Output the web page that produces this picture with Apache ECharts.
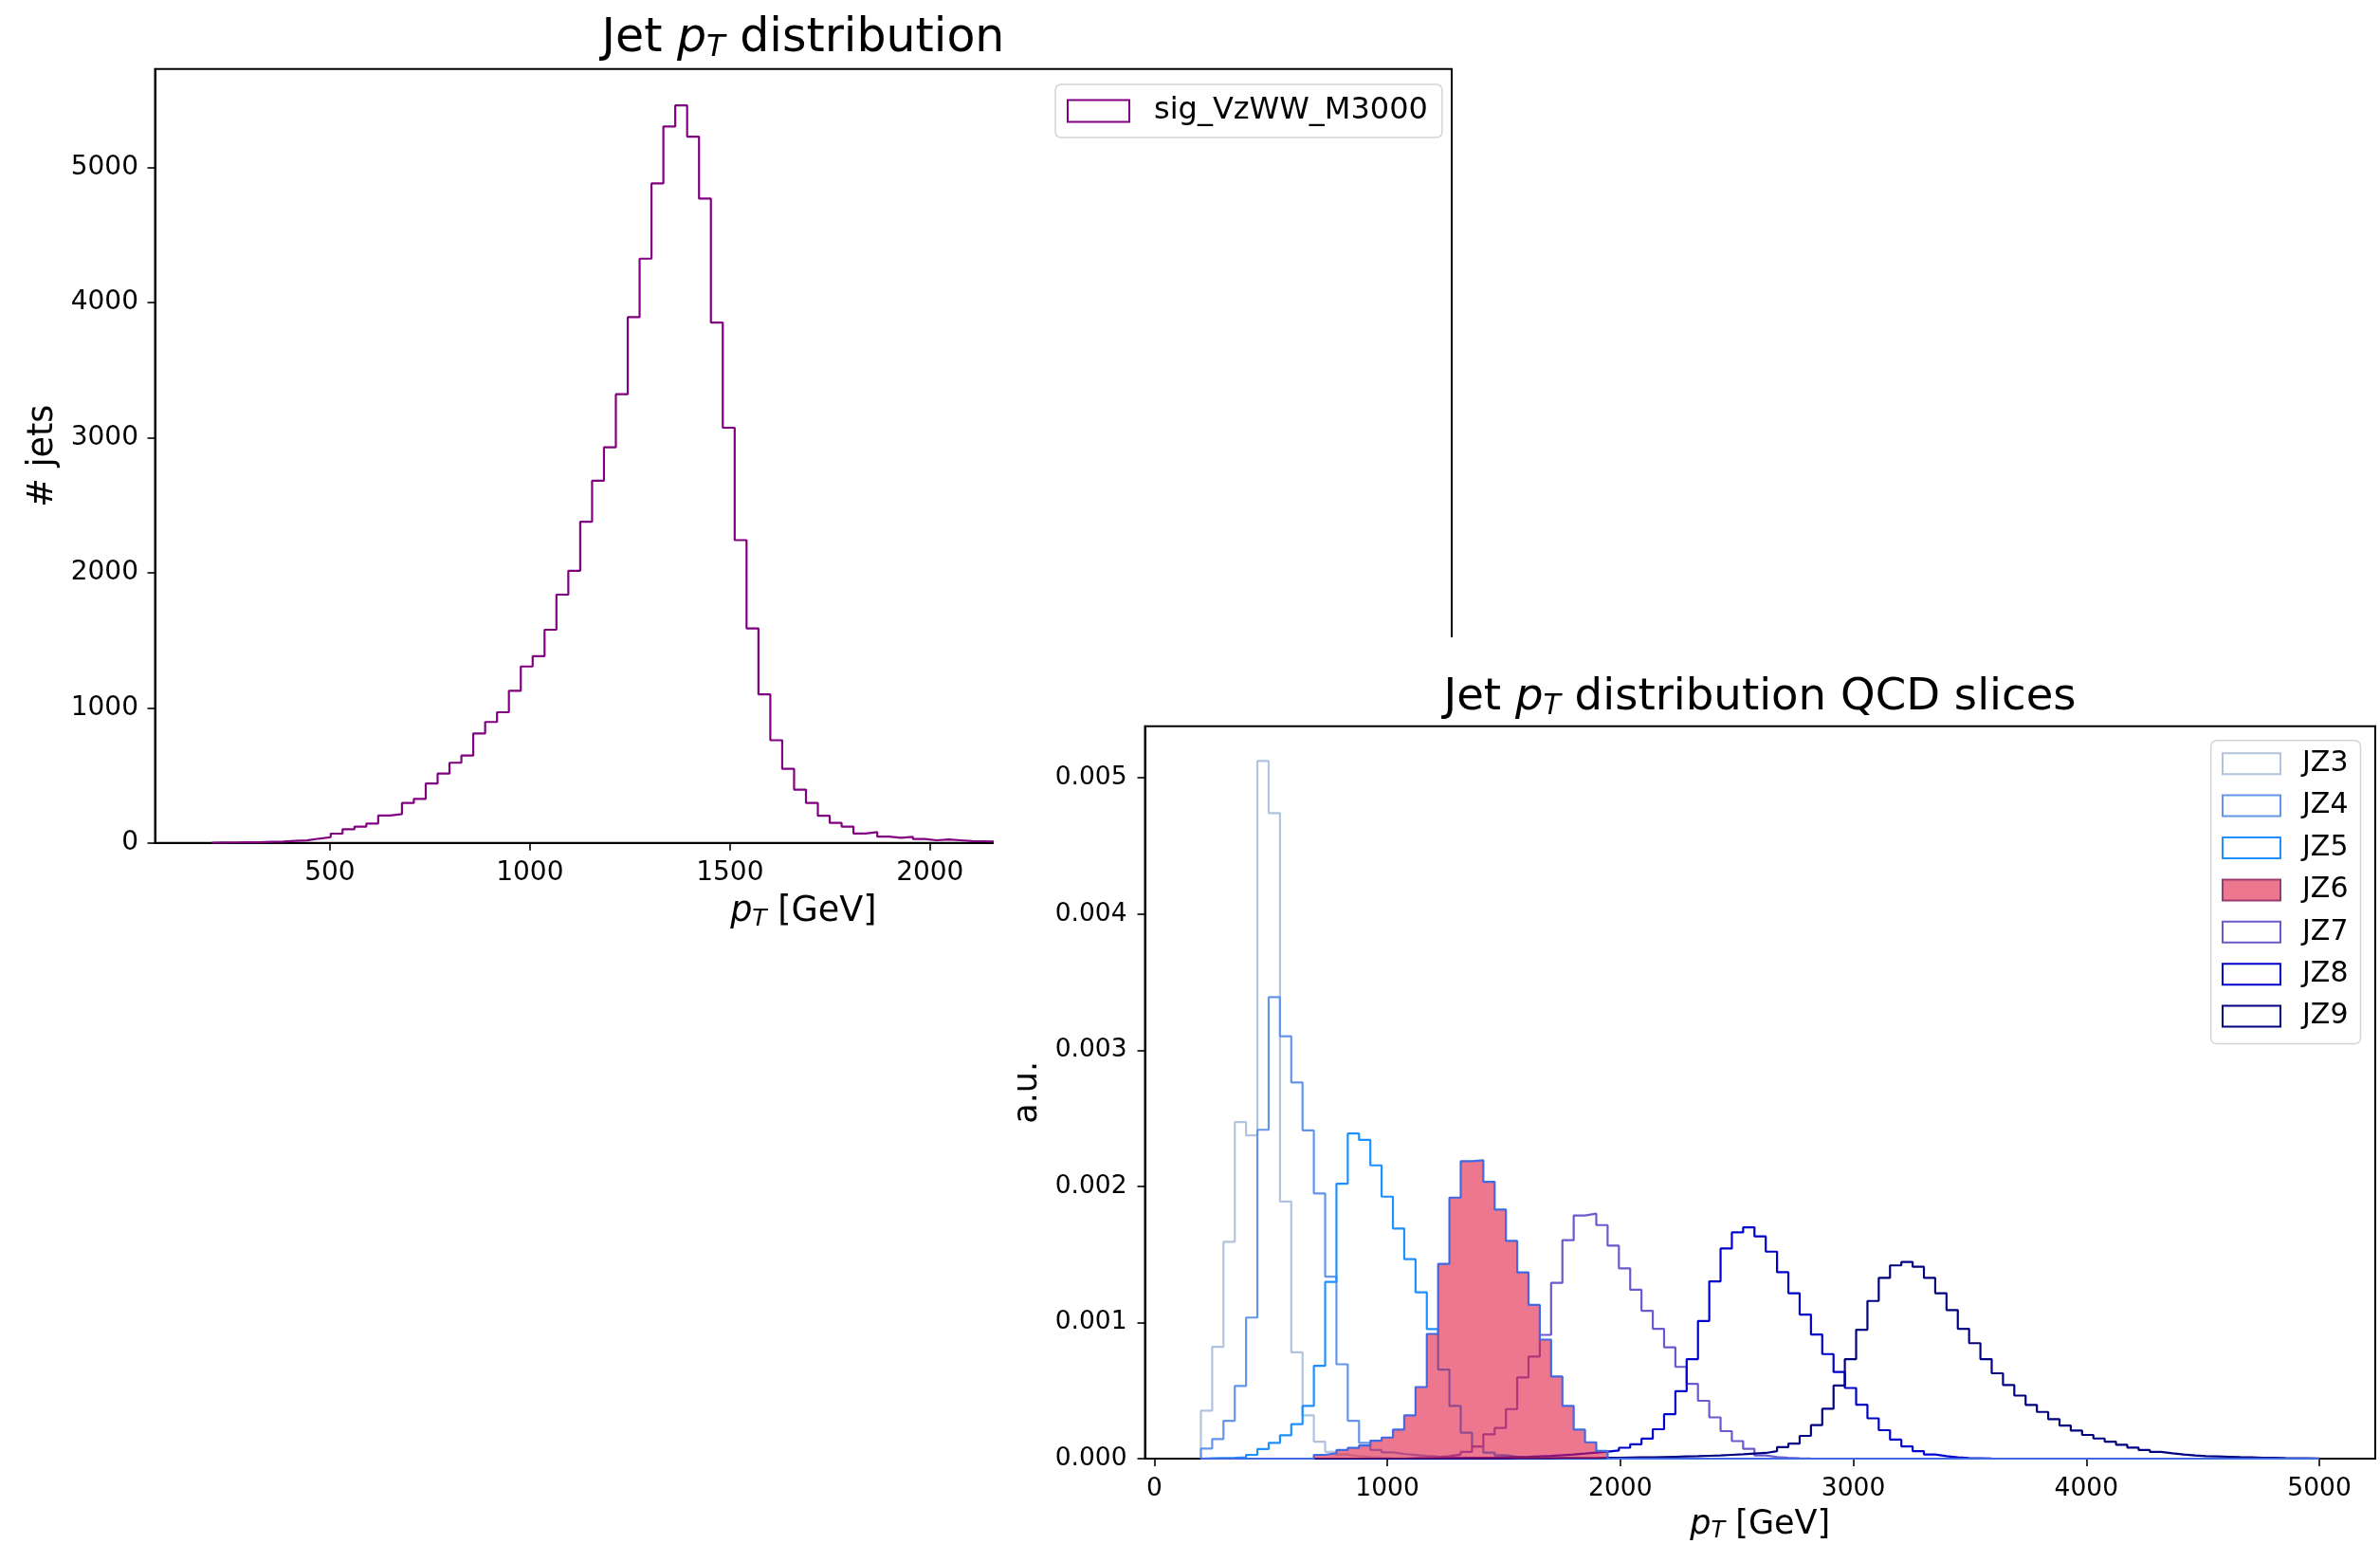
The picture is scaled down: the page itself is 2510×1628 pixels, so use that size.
<!DOCTYPE html>
<html>
<head>
<meta charset="utf-8">
<script src="https://cdn.jsdelivr.net/npm/echarts@6/dist/echarts.min.js"></script>
<style>
  html, body { margin: 0; padding: 0; background: #fff; }
  #main { width: 2510px; height: 1628px; }
</style>
</head>
<body>
<div id="main"></div>
<script>
var FONT = 'DejaVu Sans'

// left panel: signal jets, equal-width bins
var sigStart = 205
var sigWidth = 29.7
var sigBins = 100
var sigCounts = [
  2, 3, 5, 4, 8, 10, 14, 18, 31, 42,
  68, 101, 120, 143, 202, 213, 295, 326, 440, 513,
  593, 646, 810, 895, 967, 1126, 1306, 1383, 1578, 1838,
  2015, 2378, 2682, 2929, 3322, 3893, 4326, 4883, 5305, 5461,
  5230, 4771, 3853, 3074, 2242, 1588, 1100, 760, 548, 394,
  295, 200, 148, 120, 69, 80, 46, 38, 44, 28,
  19, 25, 19, 13, 12, 10, 8, 6, 5, 4, 3
]
var sigXTicks = [500, 1000, 1500, 2000, 2500, 3000]
var sigYTicks = [0, 1000, 2000, 3000, 4000, 5000]

// right panel: QCD slices, shared bins, values in units of 1e-3
var qcdStart = 200
var qcdEnd = 5000
var qcdBins = 99
var AU = 0.001
var jzNames = ['JZ3', 'JZ4', 'JZ5', 'JZ6', 'JZ7', 'JZ8', 'JZ9']
var jzColors = ['#b0c4de', '#6495ed', '#1e90ff', '#4169e1', '#6a5acd', '#0000cd', '#000080']
var jzFirstBin = [0, 0, 0, 10, 18, 20, 25]

var jz3 = [0.352, 0.821, 1.592, 2.471, 2.374, 5.123, 4.741, 1.889, 0.781, 0.318,
  0.125, 0.05, 0.03, 0.018, 0.012, 0.008, 0.005, 0.003, 0.002, 0.001]
var jz4 = [0.074, 0.144, 0.278, 0.533, 1.036, 2.415, 3.389, 3.102, 2.763, 2.411,
  1.947, 1.337, 0.693, 0.278, 0.116, 0.063, 0.046, 0.035, 0.027, 0.02,
  0.015, 0.011, 0.008, 0.006, 0.004, 0.003, 0.002, 0.001]
var jz5 = [0.002, 0.004, 0.006, 0.01, 0.028, 0.07, 0.116, 0.171, 0.253, 0.387,
  0.681, 1.298, 2.019, 2.388, 2.341, 2.154, 1.924, 1.69, 1.465, 1.222,
  0.951, 0.654, 0.387, 0.19, 0.09, 0.045, 0.025, 0.014, 0.008, 0.005,
  0.003, 0.002, 0.001]
var jz6 = [0.028, 0.04, 0.063, 0.079, 0.097, 0.132, 0.155, 0.213, 0.318, 0.526,
  0.916, 1.43, 1.917, 2.184, 2.191, 2.033, 1.829, 1.599, 1.368, 1.129,
  0.874, 0.603, 0.387, 0.213, 0.12, 0.056]
var jz7 = [0.005, 0.008, 0.012, 0.018, 0.03, 0.05, 0.09, 0.178, 0.225, 0.364,
  0.596, 0.75, 0.909, 1.291, 1.604, 1.786, 1.799, 1.715, 1.564, 1.398,
  1.24, 1.086, 0.954, 0.818, 0.674, 0.549, 0.425, 0.303, 0.202, 0.129,
  0.072, 0.023, 0.012, 0.006, 0.003, 0.001]
var jz8 = [0.003, 0.004, 0.005, 0.006, 0.007, 0.008, 0.01, 0.012, 0.014, 0.017,
  0.02, 0.025, 0.03, 0.037, 0.045, 0.052, 0.06, 0.08, 0.105, 0.147,
  0.216, 0.326, 0.495, 0.731, 1.011, 1.302, 1.543, 1.662, 1.699, 1.632,
  1.52, 1.369, 1.215, 1.058, 0.912, 0.768, 0.636, 0.519, 0.396, 0.296,
  0.209, 0.14, 0.09, 0.055, 0.031, 0.018, 0.01, 0.005, 0.003, 0.001]
var jz9 = [0.001, 0.001, 0.002, 0.002, 0.003, 0.003, 0.004, 0.004, 0.005, 0.005,
  0.006, 0.007, 0.008, 0.009, 0.01, 0.012, 0.014, 0.016, 0.018, 0.021,
  0.024, 0.028, 0.032, 0.037, 0.042, 0.055, 0.085, 0.11, 0.167, 0.246,
  0.366, 0.537, 0.731, 0.947, 1.158, 1.327, 1.419, 1.444, 1.409, 1.327,
  1.215, 1.091, 0.954, 0.848, 0.731, 0.627, 0.541, 0.463, 0.395, 0.343,
  0.29, 0.243, 0.206, 0.174, 0.148, 0.125, 0.102, 0.081, 0.063, 0.049,
  0.039, 0.03, 0.023, 0.018, 0.016, 0.014, 0.011, 0.009, 0.007, 0.006,
  0.004, 0.003, 0.002, 0.001]
var jzValues = [jz3, jz4, jz5, jz6, jz7, jz8, jz9]

var qcdXTicks = [0, 1000, 2000, 3000, 4000, 5000]
var qcdYTicks = [0, 0.001, 0.002, 0.003, 0.004, 0.005]

// histogram outline as points for a step:'end' line
function stepPoints(start, width, n, first, values, scale) {
  var pts = [[start, 0]]
  var v = 0
  for (var k = 0; k < n; k++) {
    var i = k - first
    v = (i >= 0 && i < values.length) ? values[i] * scale : 0
    pts.push([start + k * width, v])
  }
  pts.push([start + n * width, v])
  pts.push([start + n * width, 0])
  return pts
}

function richPt(size, subSize, lh) {
  return {
    it: { fontFamily: FONT, fontStyle: 'italic', fontSize: size, lineHeight: lh, color: '#000' },
    sub: { fontFamily: FONT, fontStyle: 'italic', fontSize: subSize, lineHeight: subSize, verticalAlign: 'bottom', color: '#000' }
  }
}

function plain(v) {
  return String(v)
}

var chart = echarts.init(document.getElementById('main'))

var qcdWidth = (qcdEnd - qcdStart) / qcdBins
var series = [
  {
    name: 'sig_VzWW_M3000',
    type: 'line',
    xAxisIndex: 0,
    yAxisIndex: 0,
    step: 'end',
    symbol: 'none',
    silent: true,
    data: stepPoints(sigStart, sigWidth, sigBins, 0, sigCounts, 1),
    lineStyle: { color: '#800080', width: 2.2 },
    itemStyle: { color: '#800080' },
  },
]
jzNames.forEach(function (name, j) {
  var s = {
    name: name,
    type: 'line',
    xAxisIndex: 1,
    yAxisIndex: 1,
    zlevel: 1,
    z: 2,
    step: 'end',
    symbol: 'none',
    silent: true,
    data: stepPoints(qcdStart, qcdWidth, qcdBins, jzFirstBin[j], jzValues[j], AU),
    lineStyle: { color: jzColors[j], width: 2.2 },
    itemStyle: { color: jzColors[j] },
  }
  if (name === 'JZ6') {
    s.z = 4
    s.areaStyle = { color: 'rgb(224,28,68)', opacity: 0.6 }
  }
  series.push(s)
})

var legendBox = {
  backgroundColor: 'rgba(255,255,255,0.8)',
  borderColor: '#d4d4d4',
  borderWidth: 1.5,
  borderRadius: 6,
  selectedMode: false,
}

var option = {
  animation: false,
  backgroundColor: '#fff',
  textStyle: { fontFamily: FONT },
  title: [
    {
      text: 'Jet {it|p}{sub|T} distribution',
      left: 847,
      top: 15,
      textAlign: 'center',
      padding: 0,
      textStyle: {
        fontFamily: FONT, fontSize: 49, fontWeight: 'normal', color: '#000', lineHeight: 52,
        rich: richPt(49, 32, 52),
      },
    },
    {
      text: 'Jet {it|p}{sub|T} distribution QCD slices',
      left: 1856,
      top: 711,
      textAlign: 'center',
      padding: 0,
      zlevel: 1,
      textStyle: {
        fontFamily: FONT, fontSize: 46.6, fontWeight: 'normal', color: '#000', lineHeight: 49,
        rich: richPt(46.6, 30, 49),
      },
    },
  ],
  legend: [
    Object.assign({
      left: 1113,
      top: 89,
      padding: [12, 15, 12, 12],
      itemWidth: 65,
      itemHeight: 23,
      textStyle: { fontFamily: FONT, fontSize: 32, color: '#000', padding: [0, 0, 0, 21] },
      data: [{ name: 'sig_VzWW_M3000', icon: 'rect',
        itemStyle: { color: 'transparent', borderColor: '#800080', borderWidth: 2 } }],
    }, legendBox),
    Object.assign({
      left: 2331.7,
      top: 780.7,
      orient: 'vertical',
      zlevel: 1,
      padding: [9.5, 13, 14, 11.3],
      itemWidth: 61,
      itemHeight: 22,
      itemGap: 14.4,
      textStyle: { fontFamily: FONT, fontSize: 30, color: '#000', padding: [0, 0, 0, 18] },
      data: jzNames.map(function (name, j) {
        var st = { color: 'transparent', borderColor: jzColors[j], borderWidth: 2 }
        if (name === 'JZ6') st = { color: 'rgba(224,28,68,0.6)', borderColor: '#9b3a6e', borderWidth: 2 }
        return { name: name, icon: 'rect', itemStyle: st }
      }),
    }, legendBox),
  ],
  grid: [
    { left: 163.5, top: 72.7, width: 1367.5, height: 816, show: true, borderColor: '#000', borderWidth: 2 },
    { left: 1207.5, top: 765.7, width: 1297.5, height: 773.3, show: true, borderColor: '#000', borderWidth: 2, zlevel: 1 },
  ],
  xAxis: [
    {
      gridIndex: 0,
      type: 'value',
      min: 63,
      max: 3304,
      axisLine: { show: true, onZero: false, lineStyle: { color: '#000', width: 2 } },
      axisTick: { show: true, customValues: sigXTicks, length: 8, lineStyle: { color: '#000', width: 1.6 } },
      axisLabel: { customValues: sigXTicks, fontSize: 28, color: '#000', margin: 18, fontFamily: FONT, formatter: plain },
      splitLine: { show: false },
      name: '{it|p}{sub|T} [GeV]',
      nameLocation: 'middle',
      nameGap: 53,
      nameTextStyle: { fontFamily: FONT, fontSize: 36.5, color: '#000', lineHeight: 40, rich: richPt(36.5, 25, 40) },
    },
    {
      gridIndex: 1,
      type: 'value',
      min: -40,
      max: 5240,
      zlevel: 1,
      axisLine: { show: true, onZero: false, lineStyle: { color: '#000', width: 2 } },
      axisTick: { show: true, customValues: qcdXTicks, length: 8, lineStyle: { color: '#000', width: 1.6 } },
      axisLabel: { customValues: qcdXTicks, fontSize: 26.5, color: '#000', margin: 19, fontFamily: FONT, formatter: plain },
      splitLine: { show: false },
      name: '{it|p}{sub|T} [GeV]',
      nameLocation: 'middle',
      nameGap: 51,
      nameTextStyle: { fontFamily: FONT, fontSize: 35, color: '#000', lineHeight: 38, rich: richPt(35, 24, 38) },
    },
  ],
  yAxis: [
    {
      gridIndex: 0,
      type: 'value',
      min: 0,
      max: 5731,
      axisLine: { show: true, onZero: false, lineStyle: { color: '#000', width: 2 } },
      axisTick: { show: true, customValues: sigYTicks, length: 8, lineStyle: { color: '#000', width: 1.6 } },
      axisLabel: { customValues: sigYTicks, fontSize: 28, color: '#000', margin: 17.5, fontFamily: FONT, formatter: plain },
      splitLine: { show: false },
      name: '# jets',
      nameLocation: 'middle',
      nameGap: 91,
      nameTextStyle: { fontFamily: FONT, fontSize: 36.5, color: '#000' },
    },
    {
      gridIndex: 1,
      type: 'value',
      min: 0,
      max: 0.005379,
      zlevel: 1,
      axisLine: { show: true, onZero: false, lineStyle: { color: '#000', width: 2 } },
      axisTick: { show: true, customValues: qcdYTicks, length: 8, lineStyle: { color: '#000', width: 1.6 } },
      axisLabel: {
        customValues: qcdYTicks, fontSize: 26.5, color: '#000', margin: 19, fontFamily: FONT,
        formatter: function (v) { return v.toFixed(3) },
      },
      splitLine: { show: false },
      name: 'a.u.',
      nameLocation: 'middle',
      nameGap: 104,
      nameTextStyle: { fontFamily: FONT, fontSize: 35, color: '#000' },
    },
  ],
  graphic: [
    {
      type: 'rect',
      zlevel: 1,
      z: -5,
      silent: true,
      shape: { x: 1048, y: 672, width: 1462, height: 956 },
      style: { fill: '#fff' },
    },
  ],
  series: series,
}

chart.setOption(option)
</script>
</body>
</html>
